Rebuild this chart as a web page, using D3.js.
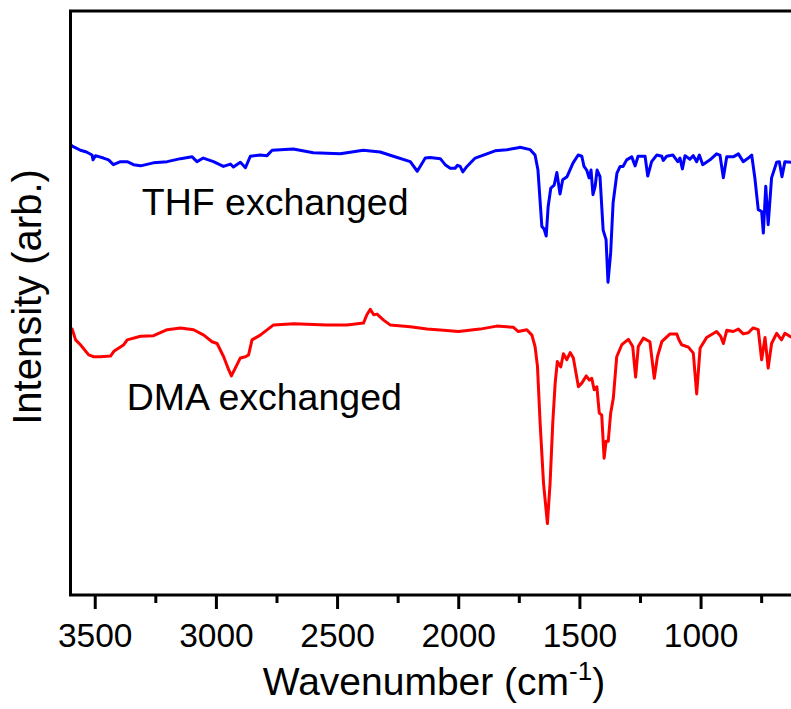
<!DOCTYPE html>
<html>
<head>
<meta charset="utf-8">
<script src="https://cdn.jsdelivr.net/npm/d3@7"></script>
<style>
  body { margin: 0; background: #fff; }
  text { font-family: "Liberation Sans", Arial, sans-serif; fill: #000; }
</style>
</head>
<body>
<div id="chart"></div>
<script>
// Spectra (wavenumber in cm-1, intensity in arb. units)
const thfWavenumber = [3600, 3593, 3559, 3534, 3511, 3507, 3497, 3464, 3443, 3423, 3394, 3366, 3340, 3311, 3258, 3201,
    3146, 3098, 3078, 3052, 3010, 2969, 2940, 2928, 2899, 2878, 2858, 2817, 2789, 2768, 2681, 2598, 2487, 2392, 2322,
    2268, 2198, 2169, 2136, 2116, 2074, 2054, 2033, 2013, 2003, 1992, 1981, 1964, 1930, 1896, 1848, 1799, 1752, 1745,
    1703, 1683, 1671, 1655, 1646, 1637, 1629, 1618, 1604, 1593, 1580, 1569, 1551, 1526, 1505, 1490, 1481, 1470, 1460,
    1452, 1444, 1435, 1427, 1415, 1402, 1390, 1382, 1371, 1361, 1345, 1332, 1320, 1305, 1284, 1270, 1258, 1229, 1218,
    1202, 1181, 1160, 1154, 1140, 1114, 1094, 1085, 1075, 1064, 1044, 1030, 1016, 1005, 991, 961, 934, 920, 906, 892,
    865, 844, 824, 803, 789, 776, 762, 748, 741, 731, 721, 707, 686, 675, 664, 652, 627, 610];
const thfIntensity = [75.0, 74.8, 74.1, 73.8, 73.3, 72.5, 73.2, 72.8, 72.5, 71.7, 72.2, 72.2, 71.7, 71.5, 72.0, 72.2,
    72.7, 73.0, 72.2, 72.8, 72.2, 71.4, 71.8, 71.3, 72.1, 71.2, 73.1, 73.3, 73.2, 74.1, 74.3, 73.7, 73.5, 74.1, 73.8,
    73.1, 72.2, 70.6, 72.8, 72.9, 72.7, 71.7, 71.1, 71.1, 71.6, 71.4, 70.5, 71.4, 72.8, 73.3, 74.0, 74.2, 74.5, 74.6,
    74.2, 73.3, 70.8, 61.4, 61.0, 59.8, 64.7, 67.8, 68.3, 70.4, 66.8, 69.2, 69.7, 72.0, 73.3, 73.1, 71.4, 70.8, 69.5,
    70.8, 66.7, 68.1, 70.8, 69.7, 60.8, 59.2, 52.1, 57.0, 65.3, 70.3, 71.4, 71.4, 72.5, 73.0, 71.5, 73.1, 73.1, 69.8,
    72.2, 73.3, 73.1, 72.4, 73.1, 73.3, 72.2, 72.8, 71.0, 73.2, 72.6, 73.2, 72.2, 73.3, 71.7, 72.5, 73.5, 73.3, 69.5, 73.0,
    73.0, 73.5, 72.2, 72.8, 73.3, 69.5, 64.2, 63.9, 60.3, 68.1, 61.7, 69.5, 72.1, 72.2, 69.7, 72.2, 72.1, 72.1];

const dmaWavenumber = [3600, 3593, 3579, 3559, 3525, 3504, 3476, 3435, 3421, 3380, 3366, 3311, 3257, 3201, 3146, 3092,
    3050, 3016, 2995, 2968, 2947, 2936, 2920, 2899, 2878, 2865, 2851, 2817, 2762, 2679, 2542, 2459, 2391, 2377, 2363,
    2349, 2335, 2308, 2281, 2198, 2129, 2061, 1999, 1910, 1841, 1772, 1752, 1717, 1696, 1683, 1673, 1662, 1648, 1632,
    1621, 1610, 1600, 1591, 1577, 1566, 1552, 1538, 1525, 1504, 1490, 1472, 1459, 1449, 1439, 1428, 1418, 1408, 1398,
    1390, 1381, 1371, 1360, 1346, 1325, 1298, 1280, 1268, 1257, 1236, 1209, 1191, 1178, 1160, 1126, 1098, 1089, 1078,
    1050, 1030, 1016, 1002, 975, 934, 917, 906, 892, 865, 844, 824, 803, 783, 762, 748, 734, 721, 707, 686, 666, 652,
    627, 610];
const dmaIntensity = [44.5, 44.3, 42.5, 41.7, 40.0, 39.7, 39.7, 39.8, 40.6, 41.7, 42.5, 43.1, 43.2, 44.2, 44.5, 44.2,
    43.3, 42.2, 41.9, 39.7, 37.5, 36.5, 37.8, 39.5, 39.7, 40.0, 42.5, 43.3, 45.0, 45.2, 45.0, 45.0, 45.3, 46.7, 47.6,
    46.7, 46.8, 45.8, 45.0, 44.7, 44.3, 44.1, 43.9, 44.3, 44.8, 44.6, 43.9, 44.2, 43.3, 41.4, 38.1, 28.6, 18.6, 11.9,
    18.6, 28.6, 35.3, 38.9, 38.0, 40.2, 39.2, 40.4, 39.5, 34.7, 35.3, 36.5, 35.8, 36.1, 34.2, 34.7, 30.3, 30.0, 22.8,
    25.6, 25.6, 30.3, 32.8, 39.7, 41.7, 42.6, 41.4, 36.3, 41.4, 42.8, 42.2, 36.1, 39.7, 42.2, 43.5, 43.5, 42.5, 41.7,
    41.3, 40.3, 33.5, 41.1, 42.9, 43.9, 43.1, 41.9, 44.1, 43.9, 44.3, 43.5, 43.7, 44.5, 44.2, 39.2, 42.9, 37.8, 41.9,
    43.6, 42.5, 43.6, 43.0, 43.0];

const majorTicks = [3500, 3000, 2500, 2000, 1500, 1000];
const minorTicks = [3250, 2750, 2250, 1750, 1250, 750];

// label anchors: [text, wavenumber, intensity]
const seriesLabels = [
    ["THF exchanged", 3306, 63.3],
    ["DMA exchanged", 3368, 30.8]
];

const series = [
    { x: thfWavenumber, y: thfIntensity, color: "#0000ff" },
    { x: dmaWavenumber, y: dmaIntensity, color: "#ff0000" }
];

const W = 791, H = 709;
const margin = { top: 11, left: 70.5, bottom: 114 };
const plotRight = 797.5;   // right edge of the frame sits just outside the picture

const svg = d3.select("#chart").append("svg")
    .attr("width", W)
    .attr("height", H);

const x = d3.scaleLinear()
    .domain([3600, 600])
    .range([margin.left, plotRight]);

const y = d3.scaleLinear()
    .domain([0, 97.3])
    .range([H - margin.bottom, margin.top]);

const yBottom = H - margin.bottom;

// spectra
const line = d3.line()
    .x(d => x(d[0]))
    .y(d => y(d[1]));

svg.append("defs").append("clipPath").attr("id", "clip")
    .append("rect")
    .attr("x", margin.left)
    .attr("y", margin.top)
    .attr("width", plotRight - margin.left)
    .attr("height", yBottom - margin.top);

series.forEach(s => {
    svg.append("path")
        .datum(s.x.map((v, i) => [v, s.y[i]]))
        .attr("clip-path", "url(#clip)")
        .attr("fill", "none")
        .attr("stroke", s.color)
        .attr("stroke-width", 3)
        .attr("stroke-linejoin", "round")
        .attr("d", line);
});

// frame
svg.append("rect")
    .attr("x", margin.left)
    .attr("y", margin.top)
    .attr("width", plotRight - margin.left)
    .attr("height", yBottom - margin.top)
    .attr("fill", "none")
    .attr("stroke", "#000")
    .attr("stroke-width", 3);

// bottom axis, major and minor ticks
const xAxis = svg.append("g")
    .attr("transform", `translate(0,${yBottom})`)
    .call(d3.axisBottom(x).tickValues(majorTicks).tickSize(14).tickSizeOuter(0).tickFormat(d3.format("d")));
xAxis.select(".domain").remove();
xAxis.selectAll("line").attr("stroke-width", 3);
xAxis.selectAll("text")
    .attr("y", 52)
    .attr("dy", 0)
    .style("font-size", "33.5px")
    .style("font-family", "'Liberation Sans', Arial, sans-serif");

const xMinor = svg.append("g")
    .attr("transform", `translate(0,${yBottom})`)
    .call(d3.axisBottom(x).tickValues(minorTicks).tickSize(8).tickSizeOuter(0).tickFormat(""));
xMinor.select(".domain").remove();
xMinor.selectAll("line").attr("stroke-width", 3);

// axis titles
const xTitle = svg.append("text")
    .attr("x", (margin.left + plotRight) / 2)
    .attr("y", 695)
    .attr("text-anchor", "middle")
    .style("font-size", "39px");
xTitle.append("tspan").text("Wavenumber (cm");
xTitle.append("tspan").attr("dy", -15).style("font-size", "26px").text("-1");
xTitle.append("tspan").attr("dy", 15).text(")");

svg.append("text")
    .attr("transform", `translate(41,${(margin.top + yBottom) / 2 - 6}) rotate(-90)`)
    .attr("text-anchor", "middle")
    .style("font-size", "40px")
    .text("Intensity (arb.)");

// series labels
svg.selectAll(".series-label")
    .data(seriesLabels)
    .enter().append("text")
    .attr("class", "series-label")
    .attr("x", d => x(d[1]))
    .attr("y", d => y(d[2]))
    .style("font-size", "37.5px")
    .text(d => d[0]);
</script>
</body>
</html>
